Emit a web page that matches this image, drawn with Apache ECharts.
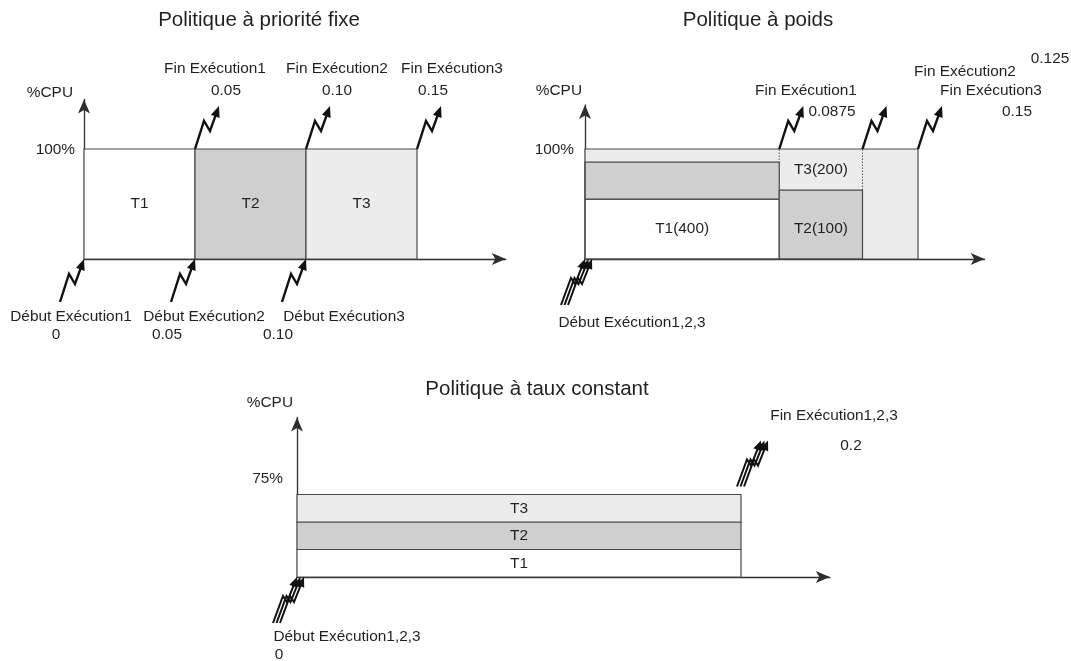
<!DOCTYPE html>
<html>
<head>
<meta charset="utf-8">
<title>Politiques d'ordonnancement CPU</title>
<script src="https://cdn.jsdelivr.net/npm/echarts/dist/echarts.min.js"></script>
<style>
  html, body { margin: 0; padding: 0; background: #ffffff; }
  #chart { width: 1071px; height: 661px; }
</style>
</head>
<body>
<div id="chart"></div>
<script>
// ---- Politique à priorité fixe : chaque tâche s'exécute seule à 100 % ----
const fixeTasks = ['T1', 'T2', 'T3'];
const fixeDebut = ['0', '0.05', '0.10'];
const fixeFin = ['0.05', '0.10', '0.15'];
const fixeCpu = [1, 1, 1];

// ---- Politique à poids : part de CPU de chaque tâche par phase ----
// phases : [0, Fin1], [Fin1, Fin2], [Fin2, Fin3]
const poidsTasks = ['T1(400)', 'T2(100)', 'T3(200)'];
const poidsDebut = '0';
const poidsFin = ['0.0875', '0.125', '0.15'];
const poidsT1 = [0.545, 0, 0];
const poidsT2 = [0.335, 0.627, 0];
const poidsT3 = [0.12, 0.373, 1.0];

// ---- Politique à taux constant : trois tâches à 25 % chacune ----
const tauxTasks = ['T1', 'T2', 'T3'];
const tauxDebut = '0';
const tauxFin = '0.2';
const tauxCpu = [0.25, 0.25, 0.25];

// ---- presentation ----
const FONT = "'Liberation Sans', Arial, Helvetica, sans-serif";
const INK = '#231f20';
const EDGE = '#4a4a4a';
const taskFill = ['#ffffff', '#cfcfcf', '#ececec'];
const S = 2220;   // pixels per time unit (shared scale)
const U = 110;    // pixels per 100 % CPU
const singleBolt = [[0, 0], [9, -28], [15, -18], [24, -43]];
const multiBolt = [[0, 0], [10, -27], [14, -21], [24, -46]];

const num = s => parseFloat(s);
const pct = v => Math.round(v * 100) + '%';

// ---------- rectangles (pieces of CPU time) ----------
function pieceSeries(gridIndex, pieces) {
  return {
    type: 'custom',
    xAxisIndex: gridIndex,
    yAxisIndex: gridIndex,
    clip: false,
    silent: true,
    data: pieces.map(p => [p.x0, p.x1, p.y0, p.y1]),
    renderItem: function (params, api) {
      const p = pieces[params.dataIndex];
      const a = api.coord([api.value(0), api.value(2)]);
      const b = api.coord([api.value(1), api.value(3)]);
      const shape = { x: a[0], y: b[1], width: b[0] - a[0], height: a[1] - b[1] };
      const children = [];
      if (p.kind === 'dotted') {
        children.push({
          type: 'line',
          shape: { x1: a[0], y1: a[1], x2: a[0], y2: b[1] },
          style: { stroke: '#555', lineWidth: 1, lineDash: [1.5, 1.5] }
        });
      } else {
        children.push({
          type: 'rect',
          shape: shape,
          style: {
            fill: p.kind === 'outline' ? null : taskFill[p.task],
            stroke: p.kind === 'fill' ? null : EDGE,
            lineWidth: 1.2
          }
        });
      }
      if (p.label) {
        children.push({
          type: 'text',
          style: {
            text: p.label,
            x: shape.x + shape.width / 2,
            y: shape.y + shape.height / 2 + (p.dy || 0),
            align: 'center',
            verticalAlign: 'middle',
            fontSize: 15.4,
            fontFamily: FONT,
            fill: INK
          }
        });
      }
      return { type: 'group', children: children };
    }
  };
}

// ---------- lightning arrows (start / end of execution) ----------
function boltSeries(gridIndex, points, opt) {
  const multi = opt.strands > 1;
  const shape = multi ? multiBolt : singleBolt;
  const lw = multi ? 2 : 2.4;
  const headLen = multi ? 10 : 11;
  const headHalf = multi ? 4.2 : 4.6;
  const last = shape[shape.length - 1];
  return {
    type: 'custom',
    xAxisIndex: gridIndex,
    yAxisIndex: gridIndex,
    clip: false,
    silent: true,
    data: points,
    renderItem: function (params, api) {
      const anchor = api.coord([api.value(0), api.value(1)]);
      const children = [];
      for (let s = 0; s < opt.strands; s++) {
        const sx = anchor[0] + (opt.shift ? opt.shift[0] : 0) + s * 3.5;
        const sy = anchor[1] + (opt.shift ? opt.shift[1] : 0);
        // 'up' : the arrow leaves the anchor; 'down' : the arrow points at it
        const ox = opt.dir === 'up' ? sx : sx - last[0];
        const oy = opt.dir === 'up' ? sy : sy - last[1];
        const pts = shape.map(d => [ox + d[0], oy + d[1]]);
        const tip = pts[pts.length - 1];
        const prev = pts[pts.length - 2];
        const len = Math.hypot(tip[0] - prev[0], tip[1] - prev[1]);
        const ux = (tip[0] - prev[0]) / len, uy = (tip[1] - prev[1]) / len;
        const base = [tip[0] - ux * headLen, tip[1] - uy * headLen];
        const line = pts.slice(0, -1).concat([[base[0] + ux, base[1] + uy]]);
        children.push({
          type: 'polyline',
          shape: { points: line },
          style: { stroke: '#111', lineWidth: lw, fill: null, lineJoin: 'miter' }
        });
        children.push({
          type: 'polygon',
          shape: {
            points: [
              tip,
              [base[0] - uy * headHalf, base[1] + ux * headHalf],
              [base[0] + uy * headHalf, base[1] - ux * headHalf]
            ]
          },
          style: { fill: '#111' }
        });
      }
      return { type: 'group', children: children };
    }
  };
}

// ---------- pieces for each diagram ----------
const fixePieces = fixeTasks.map((t, i) => ({
  x0: num(fixeDebut[i]), x1: num(fixeFin[i]), y0: 0, y1: fixeCpu[i],
  task: i, kind: 'full', label: t
}));

const phaseEdges = [num(poidsDebut)].concat(poidsFin.map(num));
const poidsShares = [poidsT1, poidsT2, poidsT3];
const poidsLabelPhase = [0, 1, 1];
const poidsPieces = [];
// T3 fills whatever the others leave: drawn first, without edges
for (let p = 0; p < 3; p++) {
  const below = poidsT1[p] + poidsT2[p];
  poidsPieces.push({ x0: phaseEdges[p], x1: phaseEdges[p + 1], y0: below, y1: below + poidsT3[p], task: 2, kind: 'fill',
    label: poidsLabelPhase[2] === p ? poidsTasks[2] : null });
}
// dotted phase boundaries inside T3
for (let p = 1; p < 3; p++) {
  poidsPieces.push({ x0: phaseEdges[p], x1: phaseEdges[p], y0: 0, y1: 1, kind: 'dotted' });
}
for (let k = 0; k < 2; k++) {
  for (let p = 0; p < 3; p++) {
    const y0 = k === 0 ? 0 : poidsT1[p];
    const h = poidsShares[k][p];
    if (h > 0) {
      poidsPieces.push({ x0: phaseEdges[p], x1: phaseEdges[p + 1], y0: y0, y1: y0 + h, task: k, kind: 'full',
        label: poidsLabelPhase[k] === p ? poidsTasks[k] : null, dy: k === 0 ? 0 : 4 });
    }
  }
}
// outer envelope of the whole execution
poidsPieces.push({ x0: phaseEdges[0], x1: phaseEdges[3], y0: 0,
  y1: Math.max.apply(null, [0, 1, 2].map(p => poidsT1[p] + poidsT2[p] + poidsT3[p])), kind: 'outline' });

let acc = 0;
const tauxPieces = tauxTasks.map((t, i) => {
  const piece = { x0: num(tauxDebut), x1: num(tauxFin), y0: acc, y1: acc + tauxCpu[i], task: i, kind: 'full', label: t };
  acc += tauxCpu[i];
  return piece;
});
const tauxTotal = acc;

// ---------- axes ----------
const xMax = [0.19, 0.18, 0.24];
const yMax = [1.45, 1.4, 1.45];
const origins = [[84, 259], [585, 259], [297, 577]];
const grids = origins.map((o, i) => ({
  left: o[0], top: o[1] - yMax[i] * U, width: xMax[i] * S, height: yMax[i] * U
}));
function axis(i, max) {
  return {
    type: 'value', gridIndex: i, min: 0, max: max,
    axisLine: { show: true, onZero: false, symbol: ['none', 'arrow'], symbolSize: [9, 14],
      lineStyle: { color: '#2e2e2e', width: 1.3 } },
    axisTick: { show: false }, axisLabel: { show: false }, splitLine: { show: false }
  };
}

// ---------- texts ----------
function txt(text, x, y, align, size) {
  return {
    type: 'text', x: x, y: y, silent: true,
    style: { text: text, align: align || 'center', verticalAlign: 'middle',
      fontSize: size || 15.4, fontFamily: FONT, fill: INK }
  };
}
const allTasks = tauxTasks.map((t, i) => i + 1).join(',');
const texts = [
  txt('Politique à priorité fixe', 259, 20, 'center', 20.5),
  txt('Politique à poids', 758, 20, 'center', 20.5),
  txt('Politique à taux constant', 537, 389, 'center', 20.5),

  txt('%CPU', 73, 93, 'right'),
  txt(pct(fixeCpu[0]), 75, 150, 'right'),
  txt('%CPU', 582, 91, 'right'),
  txt(pct(poidsT1[0] + poidsT2[0] + poidsT3[0]), 574, 150, 'right'),
  txt('%CPU', 293, 403, 'right'),
  txt(pct(tauxTotal), 283, 479, 'right')
];
const fixeFinPos = [[215, 226], [337, 337], [452, 433]];
const fixeDebutPos = [[71, 56], [204, 167], [344, 278]];
fixeTasks.forEach((t, i) => {
  texts.push(txt('Fin Exécution' + (i + 1), fixeFinPos[i][0], 69));
  texts.push(txt(fixeFin[i], fixeFinPos[i][1], 91));
  texts.push(txt('Début Exécution' + (i + 1), fixeDebutPos[i][0], 317));
  texts.push(txt(fixeDebut[i], fixeDebutPos[i][1], 335));
});
texts.push(
  txt('Fin Exécution1', 806, 91), txt(poidsFin[0], 832, 112),
  txt('Fin Exécution2', 965, 72), txt(poidsFin[1], 1050, 59),
  txt('Fin Exécution3', 991, 91), txt(poidsFin[2], 1017, 112),
  txt('Début Exécution' + allTasks, 632, 323),
  txt('Fin Exécution' + allTasks, 834, 416), txt(tauxFin, 851, 446),
  txt('Début Exécution' + allTasks, 347, 637), txt(tauxDebut, 279, 655)
);

// ---------- chart ----------
const chart = echarts.init(document.getElementById('chart'), null, { renderer: 'canvas' });
chart.setOption({
  animation: false,
  backgroundColor: '#ffffff',
  grid: grids,
  xAxis: [0, 1, 2].map(i => axis(i, xMax[i])),
  yAxis: [0, 1, 2].map(i => axis(i, yMax[i])),
  graphic: texts,
  series: [
    pieceSeries(0, fixePieces),
    boltSeries(0, fixeFin.map(v => [num(v), 1]), { dir: 'up', strands: 1 }),
    boltSeries(0, fixeDebut.map(v => [num(v), 0]), { dir: 'down', strands: 1 }),

    pieceSeries(1, poidsPieces),
    boltSeries(1, poidsFin.map(v => [num(v), 1]), { dir: 'up', strands: 1 }),
    boltSeries(1, [[num(poidsDebut), 0]], { dir: 'down', strands: 3 }),

    pieceSeries(2, tauxPieces),
    boltSeries(2, [[num(tauxFin), tauxTotal]], { dir: 'up', strands: 3, shift: [-4, -8] }),
    boltSeries(2, [[num(tauxDebut), 0]], { dir: 'down', strands: 3 })
  ]
});
</script>
</body>
</html>
